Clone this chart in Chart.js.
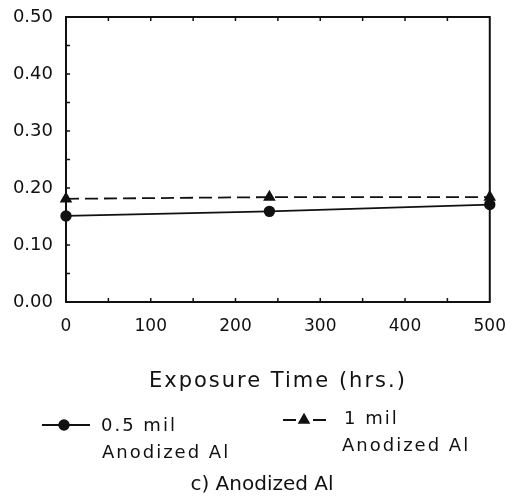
<!DOCTYPE html>
<html>
<head>
<meta charset="utf-8">
<style>
  html, body { margin: 0; padding: 0; background: #fff; }
  #wrap { width: 514px; height: 500px; position: relative; }
</style>
<script src="https://cdn.jsdelivr.net/npm/chart.js@4/dist/chart.umd.min.js"></script>
</head>
<body>
<div id="wrap"><canvas id="c" width="514" height="500"></canvas></div>
<script>
// ---- data ----
const exposureHours = [0, 240, 500];
const halfMilValues = [0.151, 0.159, 0.171];
const oneMilValues  = [0.181, 0.184, 0.184];
const xTickValues = [0, 100, 200, 300, 400, 500];
const yTickValues = [0.00, 0.10, 0.20, 0.30, 0.40, 0.50];
const seriesNames = [["0.5 mil", "Anodized Al"], ["1 mil", "Anodized Al"]];
const xAxisTitle = "Exposure Time (hrs.)";
const captionText = "c) Anodized Al";

const FONT = "'DejaVu Sans', sans-serif";
const INK = "#111";

function pairs(xs, ys) { return xs.map((x, i) => ({ x: x, y: ys[i] })); }

const framePlugin = {
  id: 'frame',
  afterLayout(chart) {
    const sx = chart.scales.x;
    if (sx && !sx._spaced) {
      const orig = sx.drawTitle;
      sx.drawTitle = function () {
        const c = this.ctx;
        const prev = c.letterSpacing;
        c.letterSpacing = '2px';
        orig.apply(this, arguments);
        c.letterSpacing = prev || '0px';
      };
      sx._spaced = true;
    }
  },
  beforeDatasetsDraw(chart) {
    const { ctx, chartArea: a, scales } = chart;
    ctx.save();
    ctx.strokeStyle = INK;
    ctx.lineWidth = 2;
    ctx.strokeRect(a.left, a.top, a.right - a.left, a.bottom - a.top);
    ctx.lineWidth = 1.5;
    ctx.beginPath();
    for (let v = 0.05; v < 0.5; v += 0.05) {
      const y = scales.y.getPixelForValue(v);
      ctx.moveTo(a.left, y); ctx.lineTo(a.left + 4, y);
    }
    for (let h = 50; h < 500; h += 50) {
      const x = scales.x.getPixelForValue(h);
      ctx.moveTo(x, a.top); ctx.lineTo(x, a.top + 4);
      ctx.moveTo(x, a.bottom); ctx.lineTo(x, a.bottom - 4);
    }
    ctx.stroke();
    ctx.restore();
  },
  afterDraw(chart) {
    const { ctx } = chart;
    const ds = chart.data.datasets;
    const H = Chart.helpers;
    ctx.save();
    ctx.font = "18px " + FONT;
    ctx.letterSpacing = '2px';
    ctx.textBaseline = 'middle';
    ctx.textAlign = 'left';
    const items = [
      { x0: 42, x1: 90, mx: 64, y: 425, dash: [], tx: 101, ty: 426, tx2: 102, ty2: 453 },
      { x0: 283, x1: 328, mx: 304, y: 420, dash: [13, 17], tx: 344, ty: 419, tx2: 342, ty2: 446 }
    ];
    items.forEach((it, i) => {
      const d = ds[i];
      ctx.save();
      ctx.strokeStyle = d.borderColor;
      ctx.lineWidth = d.borderWidth;
      ctx.setLineDash(it.dash);
      ctx.beginPath();
      ctx.moveTo(it.x0, it.y); ctx.lineTo(it.x1, it.y);
      ctx.stroke();
      ctx.restore();
      ctx.save();
      ctx.fillStyle = INK; ctx.strokeStyle = INK;
      H.drawPoint(ctx, {
        pointStyle: d.pointStyle, radius: d.pointRadius, borderWidth: 1, rotation: 0
      }, it.mx, it.y);
      ctx.restore();
      ctx.fillStyle = INK;
      ctx.fillText(seriesNames[i][0], it.tx, it.ty);
      ctx.fillText(seriesNames[i][1], it.tx2, it.ty2);
    });
    ctx.restore();
  }
};

Chart.defaults.font.family = FONT;
Chart.defaults.color = INK;

const chart = new Chart(document.getElementById('c'), {
  type: 'line',
  data: {
    datasets: [
      {
        label: seriesNames[0].join(' '),
        data: pairs(exposureHours, halfMilValues),
        borderColor: INK, backgroundColor: INK,
        borderWidth: 1.8, pointStyle: 'circle', pointRadius: 4.8,
        pointBackgroundColor: INK, pointBorderColor: INK, clip: false, tension: 0
      },
      {
        label: seriesNames[1].join(' '),
        data: pairs(exposureHours, oneMilValues),
        borderColor: INK, backgroundColor: INK,
        borderWidth: 1.8, borderDash: [13, 6], pointStyle: 'triangle', pointRadius: 5.5,
        pointBackgroundColor: INK, pointBorderColor: INK, clip: false, tension: 0
      }
    ]
  },
  options: {
    responsive: false,
    animation: false,
    devicePixelRatio: 1,
    layout: { padding: { left: 10, right: 0, top: 17, bottom: 0 } },
    plugins: {
      legend: { display: false },
      tooltip: { enabled: false },
      title: {
        display: true, position: 'bottom', text: captionText,
        font: { size: 20, weight: 'normal', family: FONT }, color: INK,
        padding: { top: 4, bottom: 3 }
      }
    },
    scales: {
      x: {
        type: 'linear', min: 0, max: 500,
        afterBuildTicks(s) { s.ticks = xTickValues.map(v => ({ value: v })); },
        afterFit(s) { s.height = 167; },
        grid: { display: false, drawTicks: true, tickLength: 6 },
        border: { display: false },
        ticks: { font: { size: 17 }, color: INK, padding: 8, maxRotation: 0 },
        title: {
          display: true, text: xAxisTitle, color: INK,
          font: { size: 21, family: FONT }, padding: { top: 0, bottom: 75 }
        }
      },
      y: {
        type: 'linear', min: 0, max: 0.5,
        afterBuildTicks(s) { s.ticks = yTickValues.map(v => ({ value: v })); },
        afterFit(s) { s.width = 56; },
        grid: { display: false, drawTicks: true, tickLength: 8 },
        border: { display: false },
        ticks: { font: { size: 18 }, color: INK, padding: 5, callback: v => v.toFixed(2) }
      }
    }
  },
  plugins: [framePlugin]
});
</script>
</body>
</html>
